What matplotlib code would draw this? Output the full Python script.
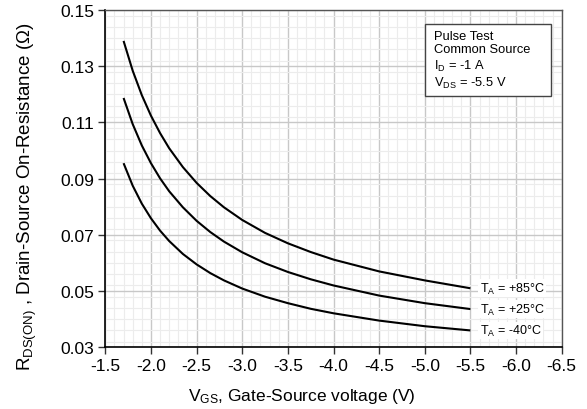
import matplotlib
matplotlib.use("Agg")
import matplotlib.pyplot as plt
from matplotlib.ticker import MultipleLocator
from matplotlib.patches import Rectangle

plt.rcParams['font.family'] = ['Liberation Sans', 'DejaVu Sans']
plt.rcParams['mathtext.fontset'] = 'custom'
plt.rcParams['mathtext.rm'] = 'Liberation Sans'
plt.rcParams['mathtext.it'] = 'Liberation Sans:italic'
plt.rcParams['mathtext.bf'] = 'Liberation Sans:bold'

# Data
vgs = [-1.7, -1.8, -1.9, -2.0, -2.1, -2.2, -2.35, -2.5, -2.65, -2.8, -3.0,
       -3.25, -3.5, -3.75, -4.0, -4.5, -5.0, -5.5]
r_85 = [0.1390, 0.1284, 0.1197, 0.1124, 0.1062, 0.1008, 0.0941, 0.0885, 0.0838, 0.0798, 0.0753,
        0.0707, 0.0670, 0.0639, 0.0612, 0.0570, 0.0538, 0.0510]
r_25 = [0.1187, 0.1094, 0.1018, 0.0955, 0.0901, 0.0855, 0.0798, 0.0750, 0.0710, 0.0676, 0.0638,
        0.0599, 0.0568, 0.0542, 0.0520, 0.0484, 0.0457, 0.0436]
r_m40 = [0.0955, 0.0875, 0.0811, 0.0759, 0.0715, 0.0678, 0.0632, 0.0595, 0.0564, 0.0538, 0.0509,
         0.0480, 0.0457, 0.0437, 0.0421, 0.0395, 0.0375, 0.0360]
series_labels = [r"T$_\mathrm{A}$ = +85°C", r"T$_\mathrm{A}$ = +25°C", r"T$_\mathrm{A}$ = -40°C"]
x_ticks = [-1.5, -2.0, -2.5, -3.0, -3.5, -4.0, -4.5, -5.0, -5.5, -6.0, -6.5]
y_ticks = [0.03, 0.05, 0.07, 0.09, 0.11, 0.13, 0.15]
box_lines = ["Pulse Test", "Common Source", r"I$_\mathrm{D}$ = -1 A", r"V$_\mathrm{DS}$ = -5.5 V"]

fig = plt.figure(figsize=(5.87, 4.10), dpi=100)
ax = fig.add_axes([0.1794, 0.1505, 0.9569 - 0.1794, 0.9732 - 0.1505])

for ys, lab in zip([r_85, r_25, r_m40], series_labels):
    ax.plot(vgs, ys, color='black', lw=1.5, solid_capstyle='butt', zorder=3)
    ax.text(vgs[-1] - 0.1, ys[-1], lab, fontsize=9, va='center', ha='left',
            bbox=dict(facecolor='white', edgecolor='none', pad=1.0), zorder=4)

ax.set_xlim(-1.5, -6.5)
ax.set_ylim(0.03, 0.15)
ax.set_xticks(x_ticks)
ax.set_xticklabels([f"{v:.1f}" for v in x_ticks])
ax.set_yticks(y_ticks)
ax.set_yticklabels([f"{v:.2f}" for v in y_ticks])
ax.xaxis.set_minor_locator(MultipleLocator(0.1))
ax.yaxis.set_minor_locator(MultipleLocator(0.004))
ax.grid(which='major', color='#c8c8c8', lw=1.0, zorder=1)
ax.grid(which='minor', color='#ececec', lw=0.8, zorder=0)
ax.set_axisbelow(True)
ax.tick_params(which='major', direction='out', length=5, width=1, labelsize=12.5,
               color='#333333', pad=3)
ax.tick_params(which='minor', length=0)
for s in ['left', 'bottom']:
    ax.spines[s].set_color('black')
    ax.spines[s].set_linewidth(1.2)
for s in ['top', 'right']:
    ax.spines[s].set_color('#555555')
    ax.spines[s].set_linewidth(1.0)

ax.set_xlabel(r"V$_\mathrm{GS}$, Gate-Source voltage (V)", fontsize=12.5)
ax.xaxis.set_label_coords(0.431, -0.115)
ax.set_ylabel(r"R$_\mathrm{DS(ON)}$ , Drain-Source On-Resistance (Ω)", fontsize=13.5)
ax.yaxis.set_label_coords(-0.146, 0.449)

# annotation box
ax.add_patch(Rectangle((0.7005, 0.745), 0.9766 - 0.7005, 0.9585 - 0.745, transform=ax.transAxes,
                       facecolor='white', edgecolor='#444444', lw=1.0, zorder=5))
ax.text(0.7208, 0.942, "\n".join(box_lines), transform=ax.transAxes, fontsize=9.3,
        va='top', ha='left', linespacing=1.2, zorder=6)

fig.savefig("out.png", dpi=100)
